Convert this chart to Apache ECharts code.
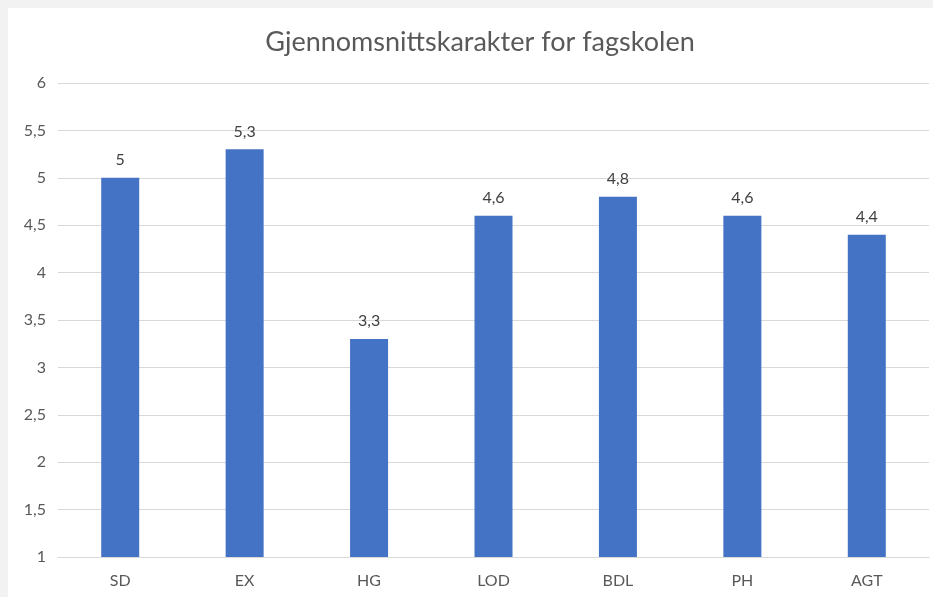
<!DOCTYPE html>
<html>
<head>
<meta charset="utf-8">
<script src="https://cdn.jsdelivr.net/npm/echarts@6/dist/echarts.min.js"></script>
<style>
html,body{margin:0;padding:0;background:#f2f2f2;width:933px;height:597px;overflow:hidden;}
#c{position:absolute;left:8px;top:8px;width:925px;height:589px;background:#fff;}
</style>
</head>
<body>
<div id="c"></div>
<script>
const titleText = "Gjennomsnittskarakter for fagskolen";
const categories = ["SD", "EX", "HG", "LOD", "BDL", "PH", "AGT"];
const values = [5, 5.3, 3.3, 4.6, 4.8, 4.6, 4.4];
const yMin = 1, yMax = 6, yStep = 0.5;

const fmt = v => String(v).replace('.', ',');
const FONT = 'Lato, "Liberation Sans", sans-serif';
const chart = echarts.init(document.getElementById('c'), null, {renderer: 'canvas'});
chart.setOption({
  animation: false,
  backgroundColor: '#ffffff',
  title: {
    text: titleText,
    left: 467, top: 16, textAlign: 'center',
    textStyle: {fontFamily: FONT, fontSize: 27, fontWeight: 'normal', color: '#595959'}
  },
  grid: {left: 50, right: 4, top: 75, bottom: 40, containLabel: false},
  xAxis: {
    type: 'category', data: categories,
    axisLine: {lineStyle: {color: '#d9d9d9'}},
    axisTick: {show: false},
    axisLabel: {fontFamily: FONT, fontSize: 16, color: '#595959', margin: 16}
  },
  yAxis: {
    type: 'value', min: yMin, max: yMax, interval: yStep,
    axisLine: {show: false}, axisTick: {show: false},
    splitLine: {lineStyle: {color: '#d9d9d9'}},
    axisLabel: {fontFamily: FONT, fontSize: 16, color: '#595959', margin: 12, formatter: fmt}
  },
  series: [{
    type: 'bar', data: values, barWidth: 38,
    itemStyle: {color: '#4472c4'},
    label: {show: true, position: 'top', distance: 10, fontFamily: FONT, fontSize: 16, color: '#404040', formatter: p => fmt(p.value)}
  }]
});
</script>
</body>
</html>
